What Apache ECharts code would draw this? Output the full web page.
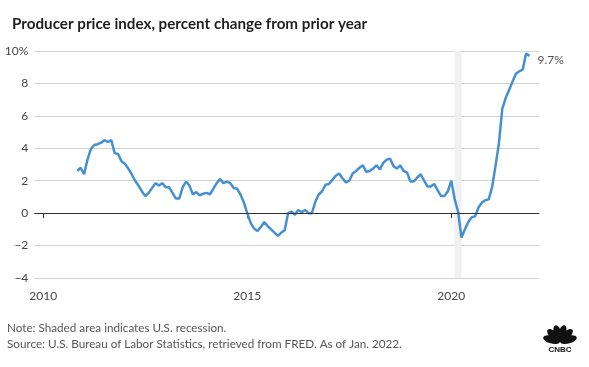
<!DOCTYPE html>
<html><head><meta charset="utf-8">
<script src="https://cdn.jsdelivr.net/npm/echarts@6/dist/echarts.min.js"></script>
<style>html,body{margin:0;padding:0;background:#fff}#c{width:589px;height:367px}</style>
</head><body><div id="c"></div>
<script>
const titleText = 'Producer price index, percent change from prior year';
const noteText = 'Note: Shaded area indicates U.S. recession.';
const sourceText = 'Source: U.S. Bureau of Labor Statistics, retrieved from FRED. As of Jan. 2022.';

// Monthly PPI, % change from prior year (first value of 2010 is November)
const ppi2010 = [2.6, 2.8];
const ppi2011 = [2.4, 3.3, 3.95, 4.2, 4.25, 4.35, 4.5, 4.4, 4.5, 3.7, 3.65, 3.2];
const ppi2012 = [3.05, 2.75, 2.4, 2.0, 1.7, 1.35, 1.05, 1.25, 1.55, 1.85, 1.7, 1.85];
const ppi2013 = [1.6, 1.6, 1.25, 0.9, 0.9, 1.6, 1.95, 1.7, 1.15, 1.3, 1.1, 1.2];
const ppi2014 = [1.25, 1.15, 1.5, 1.85, 2.1, 1.85, 1.95, 1.85, 1.55, 1.5, 1.15, 0.65];
const ppi2015 = [0.0, -0.6, -0.95, -1.1, -0.85, -0.55, -0.8, -1.0, -1.2, -1.4, -1.2, -1.05];
const ppi2016 = [0.0, 0.1, -0.1, 0.2, 0.05, 0.2, 0.0, 0.0, 0.7, 1.15, 1.35, 1.75];
const ppi2017 = [1.8, 2.05, 2.3, 2.45, 2.15, 1.9, 2.0, 2.45, 2.6, 2.8, 2.95, 2.55];
const ppi2018 = [2.6, 2.75, 2.95, 2.7, 3.1, 3.3, 3.35, 2.9, 2.75, 2.95, 2.6, 2.5];
const ppi2019 = [1.95, 1.95, 2.2, 2.4, 2.0, 1.65, 1.65, 1.8, 1.4, 1.05, 1.05, 1.35];
const ppi2020 = [2.0, 0.85, 0.1, -1.5, -1.0, -0.55, -0.25, -0.2, 0.35, 0.65, 0.8, 0.85];
const ppi2021 = [1.6, 2.9, 4.3, 6.45, 7.1, 7.6, 8.1, 8.6, 8.75, 8.85, 9.85, 9.7];

const years = [2010, 2011, 2012, 2013, 2014, 2015, 2016, 2017, 2018, 2019, 2020, 2021];
const yearSeries = [ppi2010, ppi2011, ppi2012, ppi2013, ppi2014, ppi2015, ppi2016, ppi2017, ppi2018, ppi2019, ppi2020, ppi2021];
const firstMonths = [11, 1, 1, 1, 1, 1, 1, 1, 1, 1, 1, 1];

const xTickYears = [2010, 2015, 2020];
const yTickMin = -4, yTickMax = 10, yTickStep = 2;
const recession = [[2020, 2], [2020, 4]]; // [year, month]

function toX(y, m) { return y + (m - 1) / 12; }

const points = [];
years.forEach((y, i) => {
  yearSeries[i].forEach((v, k) => points.push([toX(y, firstMonths[i] + k), v]));
});

const FONT = 'Lato';
const chart = echarts.init(document.getElementById('c'), null, { renderer: 'canvas' });

const petalAngles = [-74, -44.5, -15, 15, 44.5, 74];
const logoCx = 560, logoCy = 342;
const logoChildren = petalAngles.map(a => ({
  type: 'ellipse',
  x: logoCx, y: logoCy,
  rotation: a * Math.PI / 180,
  shape: { cx: 0, cy: -8.8, rx: 3.9, ry: 8.6 },
  style: { fill: '#111' }
}));
logoChildren.push({
  type: 'text', x: logoCx, y: logoCy + 3.5,
  style: { text: 'CNBC', fill: '#111', font: 'bold 8px Arial', textAlign: 'center', textVerticalAlign: 'top' }
});

chart.setOption({
  animation: false,
  backgroundColor: '#fff',
  title: {
    text: titleText, left: 7, top: 12,
    textStyle: { fontFamily: FONT, fontSize: 15.2, fontWeight: 'bold', color: '#1f1f1f' }
  },
  grid: { left: 34.3, right: 49.7, top: 51, bottom: 89 },
  xAxis: {
    type: 'value', min: 2009.78, max: 2022.157,
    axisLine: { show: false },
    splitLine: { show: false },
    axisTick: { show: true, customValues: xTickYears, length: 5, lineStyle: { color: '#333' } },
    axisLabel: { customValues: xTickYears, color: '#444', fontSize: 12, fontFamily: FONT, margin: 12, formatter: v => String(v) }
  },
  yAxis: {
    type: 'value', min: yTickMin, max: yTickMax, interval: yTickStep,
    axisLine: { show: false }, axisTick: { show: false },
    splitLine: { lineStyle: { color: '#d3d3d3', width: 1 } },
    axisLabel: {
      color: '#444', fontSize: 12, fontFamily: FONT, margin: 6,
      formatter: v => v === yTickMax ? v + '%' : (v < 0 ? '\u2212' + Math.abs(v) : String(v))
    }
  },
  series: [{
    type: 'line', data: points, showSymbol: false, symbol: 'none',
    lineStyle: { color: '#4590d3', width: 2.5 },
    z: 3,
    endLabel: {
      show: true, color: '#555', fontSize: 12, fontFamily: FONT, distance: 8, offset: [0, 4],
      formatter: p => p.value[1].toFixed(1) + '%'
    },
    markArea: {
      silent: true,
      itemStyle: { color: '#f0f0f0' },
      data: [[{ xAxis: toX(recession[0][0], recession[0][1]) }, { xAxis: toX(recession[1][0], recession[1][1]) }]]
    },
    markLine: {
      silent: true, symbol: 'none', label: { show: false },
      lineStyle: { color: '#333', width: 1.2, type: 'solid' },
      data: [{ yAxis: 0 }]
    }
  }],
  graphic: [
    { type: 'text', left: 7, top: 322, style: { text: noteText, fill: '#555', font: '11.7px ' + FONT } },
    { type: 'text', left: 7, top: 338, style: { text: sourceText, fill: '#555', font: '11.7px ' + FONT } },
    { type: 'group', children: logoChildren }
  ]
});
</script></body></html>
